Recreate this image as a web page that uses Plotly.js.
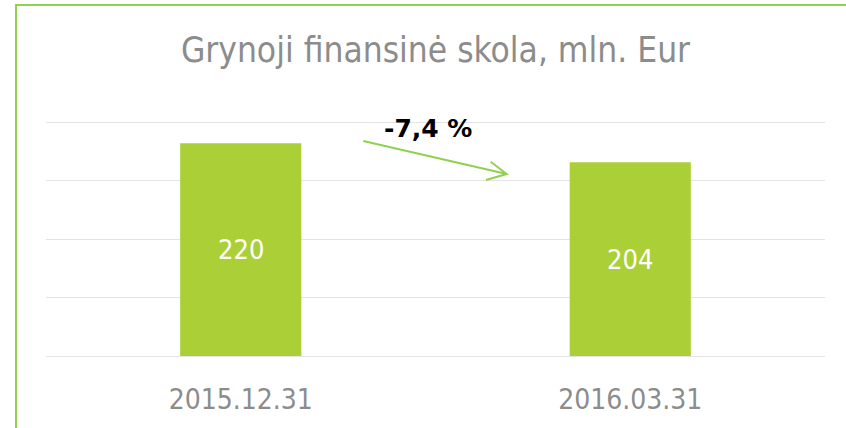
<!DOCTYPE html>
<html>
<head>
<meta charset="utf-8">
<script src="https://cdn.plot.ly/plotly-3.0.1.min.js"></script>
<style>
  html, body { margin: 0; padding: 0; background: #ffffff; }
  #wrap { position: relative; width: 846px; height: 428px; overflow: hidden; }
  #chart { width: 846px; height: 428px; }
  #frame { position: absolute; left: 15px; top: 4px; right: -4px; bottom: -4px;
           border-left: 2px solid #92d050; border-top: 2px solid #92d050; pointer-events: none; }
</style>
</head>
<body>
<div id="wrap">
  <div id="chart"></div>
  <div id="frame"></div>
</div>
<script>
const categories = ["2015.12.31", "2016.03.31"];
const values = [220, 204];
const valueLabels = ["220", "204"];
const changeLabel = "-7,4 %";
const chartTitle = "Grynoji finansinė skola, mln. Eur";
const gridValues = [40.5, 89.875, 139.25, 188.625, 238];

const FONT = "'DejaVu Sans Condensed', 'DejaVu Sans', sans-serif";
const axisMin = gridValues[0];
const axisMax = 240.53;

const trace = {
  type: "bar",
  x: categories,
  y: values,
  marker: { color: "#abcf37", line: { width: 0 } },
  hoverinfo: "skip",
  cliponaxis: true
};

const valueAnnotations = categories.map((c, i) => ({
  text: valueLabels[i],
  xref: "x", yref: "y",
  x: c, y: (axisMin + values[i]) / 2,
  xanchor: "center", yanchor: "middle",
  showarrow: false,
  font: { family: FONT, size: 27, color: "#ffffff" }
}));

const layout = {
  width: 846,
  height: 428,
  margin: { l: 46, r: 21, t: 119, b: 72, pad: 0 },
  paper_bgcolor: "rgba(0,0,0,0)",
  plot_bgcolor: "rgba(0,0,0,0)",
  showlegend: false,
  bargap: 0.689,
  title: {
    text: chartTitle,
    font: { family: FONT, size: 35, color: "#8c8c8c" },
    x: 0.5, xref: "paper",
    y: 1 - 50 / 428, yref: "container", yanchor: "middle"
  },
  xaxis: {
    type: "category",
    showgrid: false,
    zeroline: false,
    showline: true,
    linecolor: "#e3e3e3",
    linewidth: 1,
    ticks: "",
    ticklabelstandoff: 18,
    tickfont: { family: FONT, size: 28, color: "#8c8c8c" },
    fixedrange: true
  },
  yaxis: {
    range: [axisMin, axisMax],
    tickmode: "array",
    tickvals: gridValues,
    showticklabels: false,
    showgrid: true,
    gridcolor: "#e3e3e3",
    gridwidth: 1,
    zeroline: false,
    showline: false,
    ticks: "",
    fixedrange: true
  },
  annotations: valueAnnotations.concat([
    {
      text: "<b>" + changeLabel + "</b>",
      xref: "paper", yref: "paper",
      x: 0.4904, y: 0.958,
      xanchor: "center", yanchor: "middle",
      showarrow: false,
      font: { family: "'DejaVu Sans', sans-serif", size: 25, color: "#000000" }
    }
  ]),
  shapes: [
    {
      type: "path",
      xref: "paper", yref: "paper",
      path: "M 0.4073 0.9072 L 0.5914 0.7679 M 0.5709 0.8198 L 0.5914 0.7679 L 0.5648 0.7426",
      line: { color: "#92d050", width: 2 }
    }
  ]
};

Plotly.newPlot("chart", [trace], layout, { displayModeBar: false, staticPlot: true });
</script>
</body>
</html>
